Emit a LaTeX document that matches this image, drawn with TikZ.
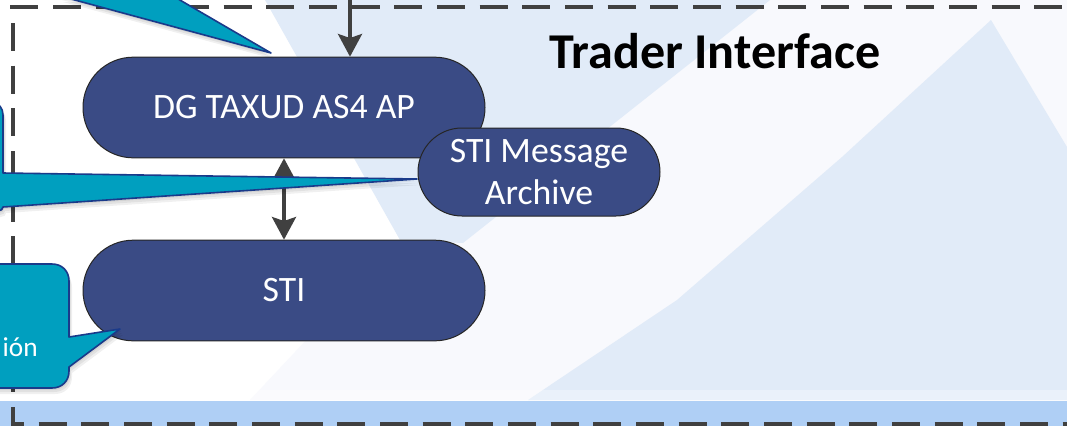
\documentclass[tikz,border=0pt]{standalone}
\usepackage{fontspec}
\setmainfont{Carlito}
\usetikzlibrary{arrows.meta}
\definecolor{paleblue}{HTML}{E1EBF8}
\definecolor{paleband}{HTML}{F8F9FD}
\definecolor{strip}{HTML}{AFCFF5}
\definecolor{nodeblue}{HTML}{3A4B85}
\definecolor{teal}{HTML}{009FBF}
\definecolor{tealedge}{HTML}{1A3A8A}
\definecolor{linegrey}{HTML}{404040}
\tikzset{
  pill/.style={draw=black!85,line width=0.75pt,fill=nodeblue,text=white,rounded corners=#1,inner sep=0pt,align=center,font=\fontsize{26.8}{32}\selectfont},
  flowarrow/.style={draw=linegrey,line width=2.6pt,-{Stealth[length=17pt,width=18pt,inset=3pt]}},
  twoway/.style={draw=linegrey,line width=2.6pt,{Stealth[length=17pt,width=18pt,inset=3pt]}-{Stealth[length=17pt,width=18pt,inset=3pt]}},
  boundary/.style={draw=linegrey,line width=3pt,dash pattern=on 21pt off 11pt},
  callout/.style={draw=tealedge,line width=1.2pt,fill=teal,line join=round},
  calloutshadow/.style={fill=black,fill opacity=0.06,draw=none}
}
\newcommand{\topcallout}{(60,-4) -- (271,53) -- (173,-4) -- cycle}
\newcommand{\leftcallout}{(-30,103) -- (-8,103) .. controls (-1,103) and (3,108) .. (3,115) -- (3,173) -- (417,179) -- (3,207) .. controls (3,209) and (1,211) .. (-2,211) -- (-30,211) -- cycle}
\newcommand{\botcallout}{(-30,264) -- (52,264) .. controls (62,264) and (69,271) .. (69,281) -- (69,337) -- (120,329) -- (69,367) -- (69,371) .. controls (69,381) and (62,388) .. (52,388) -- (-30,388) -- cycle}
\begin{document}
\begin{tikzpicture}[x=0.75pt,y=-0.75pt]
\useasboundingbox (0,0) rectangle (1067,426);
\clip (0,0) rectangle (1067,426);
% background
\fill[white] (0,0) rectangle (1067,426);
\fill[paleband] (770,0) -- (1067,0) -- (1067,400) -- (250,400) -- (400,240) -- cycle;
\fill[paleblue] (265,0) -- (770,0) -- (463,243) -- (400,240) -- cycle;
\fill[paleblue] (991,20) -- (842,157) -- (677,300) -- (528,400) -- (1067,400) -- (1067,147) -- cycle;
\fill[white,opacity=0.3] (0,390) rectangle (1067,400);
\fill[strip] (0,401) rectangle (1067,426);
% boundary
\draw[boundary] (10.4,7) -- (1067,7);
\draw[boundary] (13,23) -- (13,424) -- (1067,424);
% nodes
\node[pill=37.7pt,minimum width=301.5pt,minimum height=75.5pt] (dg) at (284,107.5) {\raisebox{-8pt}[0pt][0pt]{DG TAXUD AS4 AP}};
\node[pill=37.7pt,minimum width=301.5pt,minimum height=75.5pt] (sti) at (284,290.5) {\raisebox{-8.4pt}[0pt][0pt]{STI}};
\coordinate (feed) at (350,0);
% connectors
\draw[flowarrow] (feed) -- (feed |- dg.north);
\draw[twoway] (dg.south) -- (sti.north);
% callouts
\begin{scope}[xshift=0.75pt,yshift=-1.5pt]
\fill[calloutshadow] \topcallout;
\fill[calloutshadow] \leftcallout;
\fill[calloutshadow] \botcallout;
\end{scope}
\begin{scope}[xshift=1.5pt,yshift=-3pt]
\fill[calloutshadow] \topcallout;
\fill[calloutshadow] \leftcallout;
\fill[calloutshadow] \botcallout;
\end{scope}
\begin{scope}[xshift=2.25pt,yshift=-4.5pt]
\fill[calloutshadow] \topcallout;
\fill[calloutshadow] \leftcallout;
\fill[calloutshadow] \botcallout;
\end{scope}
\draw[callout] \topcallout;
\draw[callout] \leftcallout;
\draw[callout] \botcallout;
\node[pill=33pt,minimum width=181.5pt,minimum height=66pt] (arch) at (539,172) {STI Message\\Archive};
\node[anchor=base east,inner sep=0pt,text=white,font=\fontsize{20.5}{24}\selectfont] (cut) at (38,356) {ión};
\node[anchor=base,inner sep=0pt,text=black,font=\bfseries\fontsize{37.6}{44}\selectfont] (title) at (715,68) {Trader Interface};
\end{tikzpicture}
\end{document}
